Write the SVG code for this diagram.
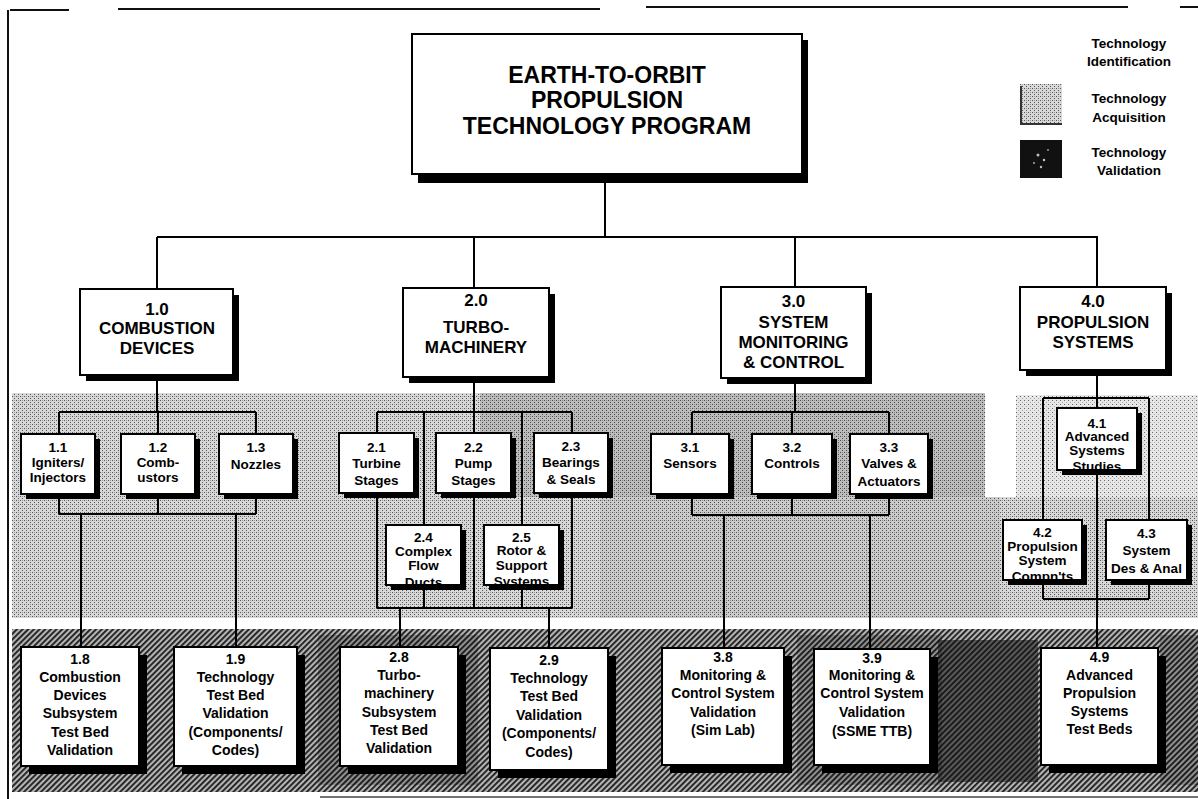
<svg xmlns="http://www.w3.org/2000/svg" width="1198" height="799" viewBox="0 0 1198 799">
<style>
text{font-family:"Liberation Sans",Arial,sans-serif;font-weight:bold;text-anchor:middle;fill:#000}
.t0{font-size:23px}
.t1{font-size:17px}
.t2{font-size:13.5px}
.t3{font-size:14px}
.tl{font-size:13.5px}
.sh{fill:#000}
.bg{fill:#fff}
.bd{fill:none;stroke:#000;stroke-width:2}
.ln{fill:none;stroke:#000;stroke-width:2}
.pg{fill:none;stroke:#111;stroke-width:2}
</style>
<defs>
<pattern id="stip" width="4" height="4" patternUnits="userSpaceOnUse">
<rect width="4" height="4" fill="#d8d8d8"/>
<rect x="0" y="0" width="1" height="1" fill="#555"/>
<rect x="2" y="2" width="1" height="1" fill="#555"/>
<rect x="2" y="0" width="1" height="1" fill="#9a9a9a"/>
</pattern>
<pattern id="stipL" width="4" height="4" patternUnits="userSpaceOnUse">
<rect width="4" height="4" fill="#e6e6e6"/>
<rect x="0" y="0" width="1" height="1" fill="#666"/>
<rect x="2" y="2" width="1" height="1" fill="#aaa"/>
</pattern>
<pattern id="hatch" width="4" height="4" patternUnits="userSpaceOnUse" patternTransform="rotate(-45)">
<rect width="4" height="4" fill="#b4b4b4"/>
<rect width="4" height="1.8" fill="#1a1a1a"/>
</pattern>
</defs>

<g id="page">
<path class="pg" d="M10 10H69M118 9H600M646 7H1128M1180 7H1198M8 10V799"/>
<path d="M320 797H1198" stroke="#444" stroke-width="1.5" fill="none"/>
</g>

<g id="regions">
<path d="M12 393H985V497H1198V618H12Z" fill="url(#stip)"/>
<rect x="480" y="393" width="505" height="104" fill="#000" opacity="0.12"/>
<rect x="600" y="497" width="400" height="121" fill="#000" opacity="0.06"/>
<rect x="1016" y="395" width="182" height="102" fill="url(#stipL)"/>
<rect x="12" y="629" width="1186" height="163" fill="url(#hatch)"/>
<rect x="318" y="635" width="160" height="150" fill="#000" opacity="0.2"/>
<rect x="797" y="635" width="145" height="150" fill="#000" opacity="0.2"/>
<rect x="938" y="640" width="100" height="142" fill="#111" opacity="0.55"/>
<rect x="1160" y="635" width="38" height="150" fill="#000" opacity="0.2"/>
</g>

<g id="legend">
<rect x="1020" y="84" width="42" height="40" fill="url(#stip)"/>
<path d="M1021 86V124H1062" stroke="#333" stroke-width="2" fill="none"/>
<rect x="1020" y="140" width="42" height="38" fill="#111"/>
<circle cx="1038" cy="155" r="1.5" fill="#bbb"/><circle cx="1044" cy="160" r="1.2" fill="#ccc"/><circle cx="1034" cy="163" r="1" fill="#aaa"/><circle cx="1048" cy="150" r="1" fill="#999"/><circle cx="1041" cy="167" r="1.2" fill="#bbb"/>
<text class="tl" x="1129" y="48">Technology</text>
<text class="tl" x="1129" y="66">Identification</text>
<text class="tl" x="1129" y="103">Technology</text>
<text class="tl" x="1129" y="122">Acquisition</text>
<text class="tl" x="1129" y="157">Technology</text>
<text class="tl" x="1129" y="175">Validation</text>
</g>

<g id="connectors">
<path class="ln" d="M605 183V237M157 237H1098M157 237V289M474 237V288M795 237V287M1097 237V287"/>
<path class="ln" d="M157 381V412M59 412H256M59 412V434M158 412V434M256 412V434M59 499V514M158 499V514M256 499V514M59 514H256M81 514V647M236 514V647"/>
<path class="ln" d="M474 383V412M377 412H572M377 412V433M424 412V525M474 412V433M522 412V525M572 412V433M377 498V608M424 590V608M474 498V608M522 590V608M572 498V608M377 608H572M400 608V647M549 608V648"/>
<path class="ln" d="M795 384V412M692 412H889M692 412V434M792 412V434M889 412V434M692 499V515M792 499V515M889 499V515M692 515H889M724 515V648M870 515V649"/>
<path class="ln" d="M1097 376V408M1043 398H1149M1043 398V520M1149 398V520M1043 585V599M1149 585V599M1043 599H1149M1097 475V648"/>
</g>

<g id="n0">
<rect class="sh" x="418" y="40" width="390" height="143"/>
<rect class="bg" x="412" y="34" width="390" height="140"/>
<rect class="bd" x="412" y="34" width="390" height="140"/>
<text class="t0" x="607" y="83">EARTH-TO-ORBIT</text>
<text class="t0" x="607" y="108">PROPULSION</text>
<text class="t0" x="607" y="134">TECHNOLOGY PROGRAM</text>
</g>

<g id="n1_0">
<rect class="sh" x="86" y="295" width="153" height="86"/>
<rect class="bg" x="80" y="289" width="153" height="86"/>
<rect class="bd" x="80" y="289" width="153" height="86"/>
<text class="t1" x="157" y="315">1.0</text>
<text class="t1" x="157" y="334">COMBUSTION</text>
<text class="t1" x="157" y="354">DEVICES</text>
</g>
<g id="n2_0">
<rect class="sh" x="409" y="294" width="146" height="89"/>
<rect class="bg" x="403" y="288" width="146" height="89"/>
<rect class="bd" x="403" y="288" width="146" height="89"/>
<text class="t1" x="476" y="306">2.0</text>
<text class="t1" x="476" y="333">TURBO-</text>
<text class="t1" x="476" y="353">MACHINERY</text>
</g>
<g id="n3_0">
<rect class="sh" x="727" y="293" width="145" height="91"/>
<rect class="bg" x="721" y="287" width="145" height="91"/>
<rect class="bd" x="721" y="287" width="145" height="91"/>
<text class="t1" x="793.5" y="307">3.0</text>
<text class="t1" x="793.5" y="328">SYSTEM</text>
<text class="t1" x="793.5" y="348">MONITORING</text>
<text class="t1" x="793.5" y="368">&amp; CONTROL</text>
</g>
<g id="n4_0">
<rect class="sh" x="1026" y="293" width="146" height="83"/>
<rect class="bg" x="1020" y="287" width="146" height="83"/>
<rect class="bd" x="1020" y="287" width="146" height="83"/>
<text class="t1" x="1093" y="307">4.0</text>
<text class="t1" x="1093" y="328">PROPULSION</text>
<text class="t1" x="1093" y="348">SYSTEMS</text>
</g>

<g id="n1_1">
<rect class="sh" x="26" y="439" width="74" height="60"/>
<rect class="bg" x="21" y="434" width="74" height="60"/>
<rect class="bd" x="21" y="434" width="74" height="60"/>
<text class="t2" x="58" y="452">1.1</text>
<text class="t2" x="58" y="467">Igniters/</text>
<text class="t2" x="58" y="482">Injectors</text>
</g>
<g id="n1_2">
<rect class="sh" x="126" y="439" width="74" height="60"/>
<rect class="bg" x="121" y="434" width="74" height="60"/>
<rect class="bd" x="121" y="434" width="74" height="60"/>
<text class="t2" x="158" y="452">1.2</text>
<text class="t2" x="158" y="467">Comb-</text>
<text class="t2" x="158" y="482">ustors</text>
</g>
<g id="n1_3">
<rect class="sh" x="224" y="439" width="74" height="60"/>
<rect class="bg" x="219" y="434" width="74" height="60"/>
<rect class="bd" x="219" y="434" width="74" height="60"/>
<text class="t2" x="256" y="452">1.3</text>
<text class="t2" x="256" y="469">Nozzles</text>
</g>
<g id="n2_1">
<rect class="sh" x="344" y="438" width="75" height="60"/>
<rect class="bg" x="339" y="433" width="75" height="60"/>
<rect class="bd" x="339" y="433" width="75" height="60"/>
<text class="t2" x="376.5" y="452">2.1</text>
<text class="t2" x="376.5" y="468">Turbine</text>
<text class="t2" x="376.5" y="485">Stages</text>
</g>
<g id="n2_2">
<rect class="sh" x="441" y="438" width="75" height="60"/>
<rect class="bg" x="436" y="433" width="75" height="60"/>
<rect class="bd" x="436" y="433" width="75" height="60"/>
<text class="t2" x="473.5" y="452">2.2</text>
<text class="t2" x="473.5" y="468">Pump</text>
<text class="t2" x="473.5" y="485">Stages</text>
</g>
<g id="n2_3">
<rect class="sh" x="539" y="438" width="74" height="60"/>
<rect class="bg" x="534" y="433" width="74" height="60"/>
<rect class="bd" x="534" y="433" width="74" height="60"/>
<text class="t2" x="571" y="451">2.3</text>
<text class="t2" x="571" y="467">Bearings</text>
<text class="t2" x="571" y="484">&amp; Seals</text>
</g>
<g id="n2_4">
<rect class="sh" x="391" y="530" width="75" height="60"/>
<rect class="bg" x="386" y="525" width="75" height="60"/>
<text class="t2" x="423.5" y="542">2.4</text>
<text class="t2" x="423.5" y="556">Complex</text>
<text class="t2" x="423.5" y="570">Flow</text>
<text class="t2" x="423.5" y="587">Ducts</text>
<rect class="bd" x="386" y="525" width="75" height="60"/>
</g>
<g id="n2_5">
<rect class="sh" x="489" y="530" width="75" height="60"/>
<rect class="bg" x="484" y="525" width="75" height="60"/>
<text class="t2" x="521.5" y="542">2.5</text>
<text class="t2" x="521.5" y="555">Rotor &amp;</text>
<text class="t2" x="521.5" y="570">Support</text>
<text class="t2" x="521.5" y="586">Systems</text>
<rect class="bd" x="484" y="525" width="75" height="60"/>
</g>
<g id="n3_1">
<rect class="sh" x="656" y="439" width="78" height="60"/>
<rect class="bg" x="651" y="434" width="78" height="60"/>
<rect class="bd" x="651" y="434" width="78" height="60"/>
<text class="t2" x="690" y="452">3.1</text>
<text class="t2" x="690" y="468">Sensors</text>
</g>
<g id="n3_2">
<rect class="sh" x="757" y="439" width="80" height="60"/>
<rect class="bg" x="752" y="434" width="80" height="60"/>
<rect class="bd" x="752" y="434" width="80" height="60"/>
<text class="t2" x="792" y="452">3.2</text>
<text class="t2" x="792" y="468">Controls</text>
</g>
<g id="n3_3">
<rect class="sh" x="855" y="439" width="78" height="60"/>
<rect class="bg" x="850" y="434" width="78" height="60"/>
<rect class="bd" x="850" y="434" width="78" height="60"/>
<text class="t2" x="889" y="452">3.3</text>
<text class="t2" x="889" y="468">Valves &amp;</text>
<text class="t2" x="889" y="486">Actuators</text>
</g>
<g id="n4_1">
<rect class="sh" x="1062" y="413" width="80" height="62"/>
<rect class="bg" x="1057" y="408" width="80" height="62"/>
<text class="t2" x="1097" y="428">4.1</text>
<text class="t2" x="1097" y="441">Advanced</text>
<text class="t2" x="1097" y="455">Systems</text>
<text class="t2" x="1097" y="471">Studies</text>
<rect class="bd" x="1057" y="408" width="80" height="62"/>
</g>
<g id="n4_2">
<rect class="sh" x="1008" y="525" width="79" height="60"/>
<rect class="bg" x="1003" y="520" width="79" height="60"/>
<text class="t2" x="1042.5" y="537">4.2</text>
<text class="t2" x="1042.5" y="551">Propulsion</text>
<text class="t2" x="1042.5" y="565">System</text>
<text class="t2" x="1042.5" y="581">Compn'ts</text>
<rect class="bd" x="1003" y="520" width="79" height="60"/>
</g>
<g id="n4_3">
<rect class="sh" x="1111" y="525" width="81" height="60"/>
<rect class="bg" x="1106" y="520" width="81" height="60"/>
<rect class="bd" x="1106" y="520" width="81" height="60"/>
<text class="t2" x="1146.5" y="538">4.3</text>
<text class="t2" x="1146.5" y="555">System</text>
<text class="t2" x="1146.5" y="573">Des &amp; Anal</text>
</g>

<g id="n1_8">
<rect class="sh" x="29" y="655" width="118" height="119"/>
<rect class="bg" x="21" y="647" width="118" height="119"/>
<rect class="bd" x="21" y="647" width="118" height="119"/>
<text class="t3" x="80" y="664">1.8</text>
<text class="t3" x="80" y="682">Combustion</text>
<text class="t3" x="80" y="700">Devices</text>
<text class="t3" x="80" y="718">Subsystem</text>
<text class="t3" x="80" y="737">Test Bed</text>
<text class="t3" x="80" y="755">Validation</text>
</g>
<g id="n1_9">
<rect class="sh" x="182" y="655" width="123" height="119"/>
<rect class="bg" x="174" y="647" width="123" height="119"/>
<rect class="bd" x="174" y="647" width="123" height="119"/>
<text class="t3" x="235.5" y="664">1.9</text>
<text class="t3" x="235.5" y="682">Technology</text>
<text class="t3" x="235.5" y="700">Test Bed</text>
<text class="t3" x="235.5" y="718">Validation</text>
<text class="t3" x="235.5" y="737">(Components/</text>
<text class="t3" x="235.5" y="755">Codes)</text>
</g>
<g id="n2_8">
<rect class="sh" x="348" y="655" width="118" height="119"/>
<rect class="bg" x="340" y="647" width="118" height="119"/>
<rect class="bd" x="340" y="647" width="118" height="119"/>
<text class="t3" x="399" y="662">2.8</text>
<text class="t3" x="399" y="680">Turbo-</text>
<text class="t3" x="399" y="698">machinery</text>
<text class="t3" x="399" y="717">Subsystem</text>
<text class="t3" x="399" y="735">Test Bed</text>
<text class="t3" x="399" y="753">Validation</text>
</g>
<g id="n2_9">
<rect class="sh" x="498" y="656" width="118" height="122"/>
<rect class="bg" x="490" y="648" width="118" height="122"/>
<rect class="bd" x="490" y="648" width="118" height="122"/>
<text class="t3" x="549" y="665">2.9</text>
<text class="t3" x="549" y="683">Technology</text>
<text class="t3" x="549" y="701">Test Bed</text>
<text class="t3" x="549" y="720">Validation</text>
<text class="t3" x="549" y="738">(Components/</text>
<text class="t3" x="549" y="757">Codes)</text>
</g>
<g id="n3_8">
<rect class="sh" x="670" y="656" width="122" height="117"/>
<rect class="bg" x="662" y="648" width="122" height="117"/>
<rect class="bd" x="662" y="648" width="122" height="117"/>
<text class="t3" x="723" y="662">3.8</text>
<text class="t3" x="723" y="680">Monitoring &amp;</text>
<text class="t3" x="723" y="698">Control System</text>
<text class="t3" x="723" y="717">Validation</text>
<text class="t3" x="723" y="735">(Sim Lab)</text>
</g>
<g id="n3_9">
<rect class="sh" x="822" y="657" width="116" height="116"/>
<rect class="bg" x="814" y="649" width="116" height="116"/>
<rect class="bd" x="814" y="649" width="116" height="116"/>
<text class="t3" x="872" y="663">3.9</text>
<text class="t3" x="872" y="680">Monitoring &amp;</text>
<text class="t3" x="872" y="698">Control System</text>
<text class="t3" x="872" y="717">Validation</text>
<text class="t3" x="872" y="736">(SSME TTB)</text>
</g>
<g id="n4_9">
<rect class="sh" x="1049" y="656" width="117" height="117"/>
<rect class="bg" x="1041" y="648" width="117" height="117"/>
<rect class="bd" x="1041" y="648" width="117" height="117"/>
<text class="t3" x="1099.5" y="662">4.9</text>
<text class="t3" x="1099.5" y="680">Advanced</text>
<text class="t3" x="1099.5" y="698">Propulsion</text>
<text class="t3" x="1099.5" y="716">Systems</text>
<text class="t3" x="1099.5" y="734">Test Beds</text>
</g>
</svg>
